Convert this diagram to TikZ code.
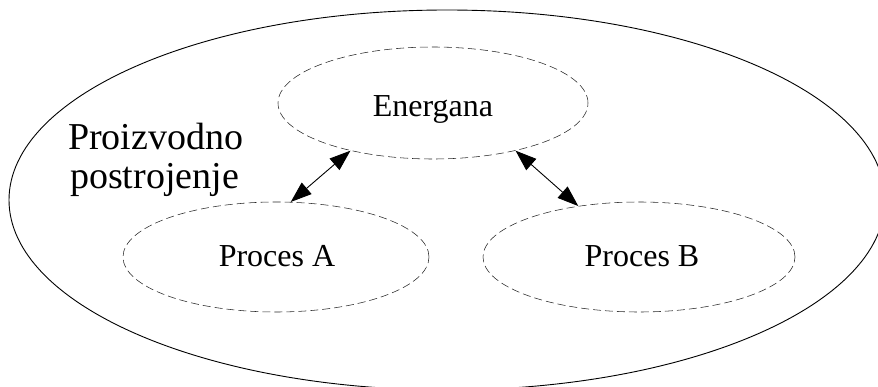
\documentclass[tikz,border=0pt]{standalone}
\usepackage{fontspec}
\setmainfont{Liberation Serif}
\usetikzlibrary{shapes.geometric,arrows.meta}
\tikzset{
  outerell/.style={draw=black, line width=0.9pt, ellipse, inner sep=0pt},
  subell/.style={draw=black!85, line width=0.55pt, dash pattern=on 8pt off 4pt, ellipse, inner sep=0pt, minimum width=310pt, minimum height=112pt},
  lbl/.style={anchor=base, inner sep=0pt, font=\fontsize{32}{36}\selectfont},
  biglbl/.style={anchor=base west, inner sep=0pt, font=\fontsize{38}{40}\selectfont},
  link/.style={line width=0.9pt, {Triangle[length=21pt,width=15pt]}-{Triangle[length=21pt,width=15pt]}}
}
\begin{document}
\begin{tikzpicture}[x=1pt,y=-1pt]
\useasboundingbox (0,0) rectangle (878,387);
\clip (0,0) rectangle (878,387);
\node[outerell, minimum width=876pt, minimum height=380pt] (plant) at (447,200) {};
\node[subell] (en) at (433,103) {};
\node[subell, minimum width=306pt, minimum height=110pt] (pa) at (276,257) {};
\node[subell, minimum width=312pt, minimum height=110pt] (pb) at (639,257) {};
\node[lbl] (tEn) at (433,117) {Energana};
\node[lbl] (tPa) at (277,267) {Proces A};
\node[lbl] (tPb) at (642,267) {Proces B};
\node[biglbl] (t1) at (68,150) {Proizvodno};
\node[biglbl] (t2) at (70,189) {postrojenje};
\draw[link] (pa.75) -- (en.210);
\draw[link] (en.330) -- (pb.140);
\end{tikzpicture}
\end{document}
